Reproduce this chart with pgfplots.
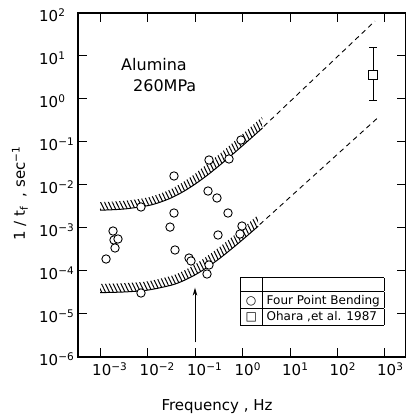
\documentclass[border=0pt]{standalone}
\usepackage{pgfplots}
\pgfplotsset{compat=1.18}
\usepgfplotslibrary{fillbetween}
\usepackage{fontspec}
\setmainfont{DejaVu Sans}
\usetikzlibrary{patterns.meta,arrows.meta}

\tikzset{hatchfill/.style={draw=none,
  pattern={Lines[angle=116,distance=3.5pt,line width=1pt]}}}

\begin{document}
\begin{tikzpicture}
\begin{axis}[
  at={(0,0)}, anchor=south west,
  scale only axis, width=328pt, height=344pt,
  xmode=log, ymode=log,
  xmin=3.44e-4, xmax=2.77e3,
  ymin=1e-6, ymax=1e2,
  xminorticks=false, yminorticks=false,
  xtick={1e-3,1e-2,1e-1,1,10,100,1000},
  xticklabels={10\textsuperscript{−3},10\textsuperscript{−2},10\textsuperscript{−1},
    10\textsuperscript{0},10\textsuperscript{1},10\textsuperscript{2},10\textsuperscript{3}},
  ytick={1e-6,1e-5,1e-4,1e-3,1e-2,1e-1,1,10,100},
  yticklabels={10\textsuperscript{−6},10\textsuperscript{−5},10\textsuperscript{−4},
    10\textsuperscript{−3},10\textsuperscript{−2},10\textsuperscript{−1},
    10\textsuperscript{0},10\textsuperscript{1},10\textsuperscript{2}},
  tick label style={font=\fontsize{15}{18}\selectfont},
  yticklabel style={anchor=west, inner xsep=0pt, xshift=-39pt, yshift=-2pt},
  xticklabel style={anchor=north west, inner xsep=0pt, xshift=-8pt, yshift=-2pt},
  axis line style={line width=1.2pt},
  every tick/.style={black, line width=1pt},
  major tick length=9pt,
  tick align=inside,
  xlabel={Frequency , Hz},
  ylabel={1 / t\textsubscript{f} \ , sec\textsuperscript{−1}},
  label style={font=\fontsize{15}{18}\selectfont},
  xlabel style={at={(axis description cs:0.424,-0.145)}, anchor=center},
  ylabel style={at={(axis description cs:-0.177,0.475)}, anchor=center},
]
% upper band: lower edge (solid line) and top of the hatching
\addplot[draw=none, smooth, name path=UA, forget plot] coordinates {
  (1e-3,2.59e-3) (3.16e-3,2.76e-3) (1e-2,3.30e-3) (1.78e-2,3.93e-3)
  (3.16e-2,5.02e-3) (5.62e-2,6.98e-3) (0.1,1.045e-2) (0.178,1.66e-2)
  (0.316,2.76e-2) (0.562,4.72e-2) (1,8.19e-2) (1.585,0.1285) (2.63,0.211)};
\addplot[draw=none, smooth, name path=UB, forget plot] coordinates {
  (1e-3,4.0e-3) (3.16e-3,4.27e-3) (1e-2,5.1e-3) (1.78e-2,6.2e-3)
  (3.16e-2,8.1e-3) (5.62e-2,1.17e-2) (0.1,1.83e-2) (0.178,3.07e-2)
  (0.316,5.1e-2) (0.562,8.7e-2) (1,0.152) (1.585,0.238) (2.63,0.39)};
\addplot[hatchfill] fill between[of=UA and UB];
% lower band
\addplot[draw=none, smooth, name path=LA, forget plot] coordinates {
  (1e-3,3.14e-5) (3.16e-3,3.25e-5) (1e-2,3.59e-5) (3.16e-2,4.68e-5)
  (5.62e-2,5.90e-5) (0.1,8.11e-5) (0.178,1.20e-4) (0.316,1.89e-4)
  (0.562,3.13e-4) (1,5.32e-4) (1.585,8.26e-4) (2.14,1.10e-3)};
\addplot[draw=none, smooth, name path=LB, forget plot] coordinates {
  (1e-3,5.0e-5) (3.16e-3,5.2e-5) (1e-2,5.75e-5) (3.16e-2,7.7e-5)
  (5.62e-2,1.0e-4) (0.1,1.42e-4) (0.178,2.2e-4) (0.316,3.5e-4)
  (0.562,5.8e-4) (1,9.8e-4) (1.585,1.53e-3) (2.14,2.03e-3)};
\addplot[hatchfill] fill between[of=LA and LB];
% solid edges and dashed extensions
\addplot[black, line width=1pt, smooth] coordinates {
  (1e-3,2.59e-3) (3.16e-3,2.76e-3) (1e-2,3.30e-3) (1.78e-2,3.93e-3)
  (3.16e-2,5.02e-3) (5.62e-2,6.98e-3) (0.1,1.045e-2) (0.178,1.66e-2)
  (0.316,2.76e-2) (0.562,4.72e-2) (1,8.19e-2) (1.585,0.1285) (2.63,0.211)};
\addplot[black, line width=0.9pt, dash pattern=on 5pt off 4pt] coordinates {
  (2.8,0.23) (616,65)};
\addplot[black, line width=1pt, smooth] coordinates {
  (1e-3,3.14e-5) (3.16e-3,3.25e-5) (1e-2,3.59e-5) (3.16e-2,4.68e-5)
  (5.62e-2,5.90e-5) (0.1,8.11e-5) (0.178,1.20e-4) (0.316,1.89e-4)
  (0.562,3.13e-4) (1,5.32e-4) (1.585,8.26e-4) (2.14,1.10e-3)};
\addplot[black, line width=0.9pt, dash pattern=on 5pt off 4pt] coordinates {
  (2.3,1.2e-3) (713,0.37)};
% four point bending
\addplot[only marks, mark=*, mark size=4.2pt,
  mark options={draw=black, fill=white, line width=0.9pt}] coordinates {
  (1.34e-3,1.90e-4) (1.88e-3,8.5e-4) (1.97e-3,5.26e-4) (2.39e-3,5.55e-4)
  (2.07e-3,3.43e-4) (7.29e-3,3.08e-3) (7.29e-3,3.08e-5) (3.61e-2,1.62e-2)
  (3.61e-2,2.23e-3) (2.98e-2,1.05e-3) (3.79e-2,3.08e-4) (7.48e-2,2.00e-4)
  (8.24e-2,1.71e-4) (0.197,3.81e-2) (0.520,4.03e-2) (0.929,0.111)
  (0.188,7.24e-3) (0.290,4.99e-3) (0.495,2.23e-3) (0.975,1.11e-3)
  (0.885,7.24e-4) (0.305,6.87e-4) (0.197,1.38e-4) (0.179,8.51e-5)};
% Ohara et al. 1987
\addplot[black, line width=0.9pt, mark=-, mark size=3.8pt] coordinates {
  (558,0.95) (558,16.2)};
\addplot[only marks, mark=square*, mark size=4.5pt,
  mark options={draw=black, fill=white, line width=0.9pt}] coordinates {
  (558,3.61)};
% annotations
\draw[-{Stealth[length=8pt,width=4.5pt]}, line width=0.9pt]
  (axis cs:0.1,2.2e-6) -- (axis cs:0.1,4.1e-5);
\node[anchor=base west, inner sep=0pt, font=\fontsize{16}{19}\selectfont]
  at (axis cs:2.77e-3,4.48) {Alumina};
\node[anchor=base west, inner sep=0pt, font=\fontsize{16}{19}\selectfont]
  at (axis cs:4.95e-3,1.456) {260MPa};
\node[anchor=north west, inner sep=0pt, font=\fontsize{12}{10}\selectfont]
  at (axis cs:0.885,7.24e-5) {%
  \setlength{\tabcolsep}{4.5pt}\setlength{\arrayrulewidth}{0.9pt}%
  \begin{tabular}{|c|l|}\hline
  \rule{0pt}{10pt}\makebox[13pt]{} & \\ \hline
  \rule[-4pt]{0pt}{16pt}\makebox[13pt]{○} & Four Point Bending\\ \hline
  \rule[-4pt]{0pt}{16pt}\makebox[13pt]{□} & Ohara ,et al. 1987\\ \hline
  \end{tabular}};
\end{axis}
\pgfresetboundingbox
\useasboundingbox (-78pt,-62pt) rectangle (327pt,357pt);
\end{tikzpicture}
\end{document}
